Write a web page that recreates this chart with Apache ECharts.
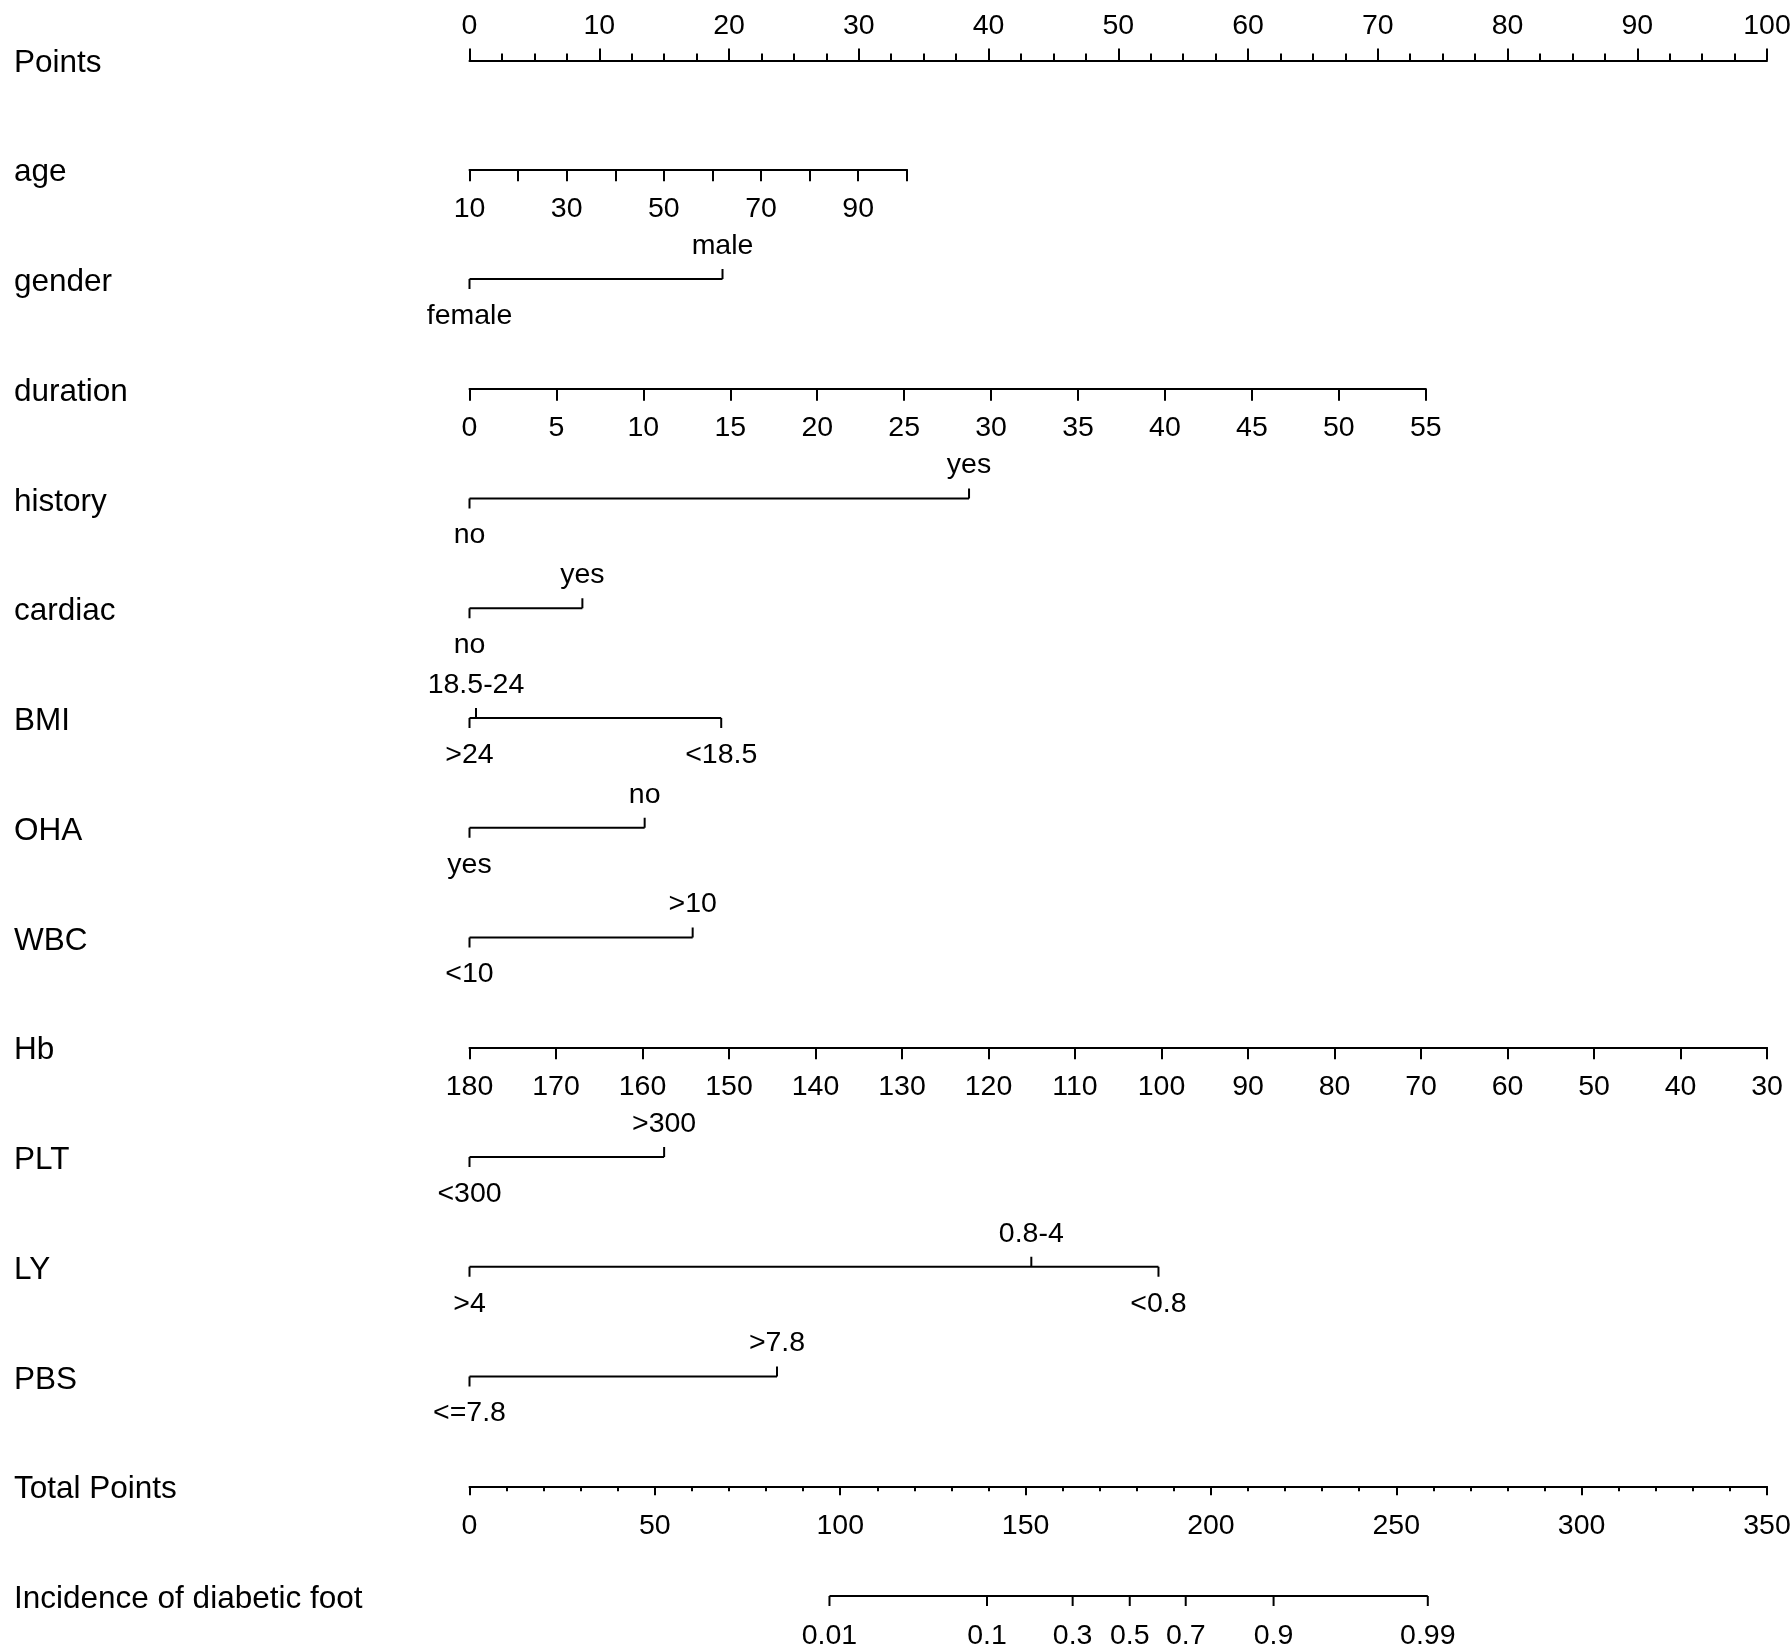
<!DOCTYPE html>
<html>
  <head>
    <meta charset="utf-8" />
    <title>Nomogram</title>
    <script src="https://cdn.jsdelivr.net/npm/echarts@6.0.0/dist/echarts.min.js"></script>
    <style>
      html, body { margin: 0; padding: 0; background: #fff; }
    </style>
  </head>
  <body>
    <div id="main" style="width: 1791px; height: 1646px"></div>
    <script>
      // row names, top to bottom
      var rowNames = ['Points', 'age', 'gender', 'duration', 'history', 'cardiac', 'BMI', 'OHA',
        'WBC', 'Hb', 'PLT', 'LY', 'PBS', 'Total Points', 'Incidence of diabetic foot'];

      // continuous predictors: value range and the points reached at the far end
      var ageRange = [10, 100], agePtsMax = 33.7;
      var durationRange = [0, 55], durationPtsMax = 73.7;
      var hbRange = [30, 180]; // 180 -> 0 pts, 30 -> 100 pts
      var totalRange = [0, 350];

      // categorical predictors: level labels and their points
      var genderLevels = ['female', 'male'], genderPts = [0, 19.5];
      var historyLevels = ['no', 'yes'], historyPts = [0, 38.5];
      var cardiacLevels = ['no', 'yes'], cardiacPts = [0, 8.7];
      var bmiLevels = ['>24', '18.5-24', '<18.5'], bmiPts = [0, 0.5, 19.4];
      var ohaLevels = ['yes', 'no'], ohaPts = [0, 13.5];
      var wbcLevels = ['<10', '>10'], wbcPts = [0, 17.2];
      var pltLevels = ['<300', '>300'], pltPts = [0, 15.0];
      var lyLevels = ['>4', '0.8-4', '<0.8'], lyPts = [0, 43.3, 53.1];
      var pbsLevels = ['<=7.8', '>7.8'], pbsPts = [0, 23.7];

      // risk scale: probability labels and where they sit on total points
      var incLabels = ['0.01', '0.1', '0.3', '0.5', '0.7', '0.9', '0.99'];
      var incTotal = [97.1, 139.6, 162.7, 178.1, 193.2, 216.9, 258.5];

      var catRows = [
        { row: 2, labels: genderLevels, pts: genderPts },
        { row: 4, labels: historyLevels, pts: historyPts },
        { row: 5, labels: cardiacLevels, pts: cardiacPts },
        { row: 6, labels: bmiLevels, pts: bmiPts },
        { row: 7, labels: ohaLevels, pts: ohaPts },
        { row: 8, labels: wbcLevels, pts: wbcPts },
        { row: 10, labels: pltLevels, pts: pltPts },
        { row: 11, labels: lyLevels, pts: lyPts },
        { row: 12, labels: pbsLevels, pts: pbsPts }
      ];

      // layout
      var FONT = '"Liberation Sans", Arial, sans-serif';
      var X0 = 469.5, X1 = 1767, PW = X1 - X0;
      var ROW0 = 59.5, GAP = 109.75;
      var TICK_FS = 28.5, ROW_FS = 31.5;
      function rowY(i) { return ROW0 + i * GAP; }

      var black = { color: '#000', width: 2 };

      function axisGrid(row, ptsMax, atTop) {
        return {
          left: X0, width: PW * ptsMax / 100,
          top: atTop ? rowY(row) : rowY(row) - 1, height: 1,
          outerBoundsMode: 'none', containLabel: false
        };
      }

      function numAxis(gridIndex, range, interval, o) {
        o = o || {};
        return {
          type: 'value', gridIndex: gridIndex, position: o.position || 'bottom',
          min: range[0], max: range[1], interval: interval, inverse: !!o.inverse,
          axisLine: { show: true, lineStyle: black },
          axisTick: { show: true, length: o.tick || 12, lineStyle: black },
          minorTick: { show: !!o.minor, splitNumber: o.minor || 5, length: o.minorLen || 7, lineStyle: black },
          splitLine: { show: false },
          axisLabel: {
            show: true, margin: o.margin || 25, color: '#000', fontSize: TICK_FS, fontFamily: FONT,
            showMinLabel: true, showMaxLabel: true, hideOverlap: false,
            formatter: o.formatter
          }
        };
      }

      var chartDom = document.getElementById('main');
      var myChart = echarts.init(chartDom);

      var option = {
        backgroundColor: '#fff',
        animation: false,
        grid: [
          { left: X0, width: PW, top: ROW0 - GAP / 2, height: GAP * rowNames.length, outerBoundsMode: 'none', containLabel: false },
          axisGrid(0, 100, true),
          axisGrid(1, agePtsMax),
          axisGrid(3, durationPtsMax),
          axisGrid(9, 100),
          axisGrid(13, 100),
          axisGrid(14, 100)
        ],
        xAxis: [
          { type: 'value', gridIndex: 0, min: 0, max: 100, show: false },
          numAxis(1, [0, 100], 10, { position: 'top', minor: 4, minorLen: 7, margin: 19 }),
          numAxis(2, ageRange, 10, {
            formatter: function (v) { return (v - ageRange[0]) % 20 === 0 ? String(v) : ''; }
          }),
          numAxis(3, durationRange, 5),
          numAxis(4, hbRange, 10, { inverse: true }),
          numAxis(5, totalRange, 50, { tick: 9, minor: 5, minorLen: 5 }),
          { type: 'value', gridIndex: 6, min: totalRange[0], max: totalRange[1], show: false }
        ],
        yAxis: [
          {
            type: 'category', gridIndex: 0, data: rowNames, inverse: true,
            axisLine: { show: false }, axisTick: { show: false }, splitLine: { show: false },
            axisLabel: {
              align: 'left', margin: X0 - 14, interval: 0,
              formatter: function (v) { return '{n|' + v + '}'; },
              rich: {
                n: { color: '#000', fontSize: ROW_FS, fontFamily: FONT, padding: [7, 0, 0, 0] }
              }
            }
          },
          { type: 'value', gridIndex: 1, show: false },
          { type: 'value', gridIndex: 2, show: false },
          { type: 'value', gridIndex: 3, show: false },
          { type: 'value', gridIndex: 4, show: false },
          { type: 'value', gridIndex: 5, show: false },
          { type: 'value', gridIndex: 6, min: 0, max: 1, show: false }
        ],
        series: [
          {
            // categorical predictors
            type: 'custom',
            xAxisIndex: 0, yAxisIndex: 0,
            data: catRows.map(function (r) { return [0, r.row]; }),
            renderItem: function (params, api) {
              var r = catRows[params.dataIndex];
              var y = api.coord([0, r.row])[1];
              var xs = r.pts.map(function (p) { return api.coord([p, r.row])[0]; });
              var order = r.pts.map(function (p, i) { return i; })
                .sort(function (a, b) { return r.pts[a] - r.pts[b]; });
              var kids = [{
                type: 'line',
                shape: { x1: Math.min.apply(null, xs), y1: y, x2: Math.max.apply(null, xs), y2: y },
                style: { stroke: '#000', lineWidth: 2 }
              }];
              order.forEach(function (idx, k) {
                var below = k % 2 === 0;
                kids.push({
                  type: 'line',
                  shape: { x1: xs[idx], y1: y, x2: xs[idx], y2: below ? y + 10 : y - 10 },
                  style: { stroke: '#000', lineWidth: 2 }
                });
                kids.push({
                  type: 'text',
                  style: {
                    text: r.labels[idx], x: xs[idx], y: below ? y + 37 : y - 33,
                    align: 'center', verticalAlign: 'middle',
                    fill: '#000', fontSize: TICK_FS, fontFamily: FONT
                  }
                });
              });
              return { type: 'group', children: kids };
            }
          },
          {
            // probability scale
            type: 'custom',
            xAxisIndex: 6, yAxisIndex: 6,
            data: [[0, 0]],
            renderItem: function (params, api) {
              var y = api.coord([0, 0])[1];
              var xs = incTotal.map(function (v) { return api.coord([v, 0])[0]; });
              var kids = [{
                type: 'line',
                shape: { x1: xs[0], y1: y, x2: xs[xs.length - 1], y2: y },
                style: { stroke: '#000', lineWidth: 2 }
              }];
              xs.forEach(function (x, i) {
                kids.push({
                  type: 'line',
                  shape: { x1: x, y1: y, x2: x, y2: y + 10 },
                  style: { stroke: '#000', lineWidth: 2 }
                });
                kids.push({
                  type: 'text',
                  style: {
                    text: incLabels[i], x: x, y: y + 40,
                    align: 'center', verticalAlign: 'middle',
                    fill: '#000', fontSize: TICK_FS, fontFamily: FONT
                  }
                });
              });
              return { type: 'group', children: kids };
            }
          }
        ]
      };

      myChart.setOption(option);
    </script>
  </body>
</html>
